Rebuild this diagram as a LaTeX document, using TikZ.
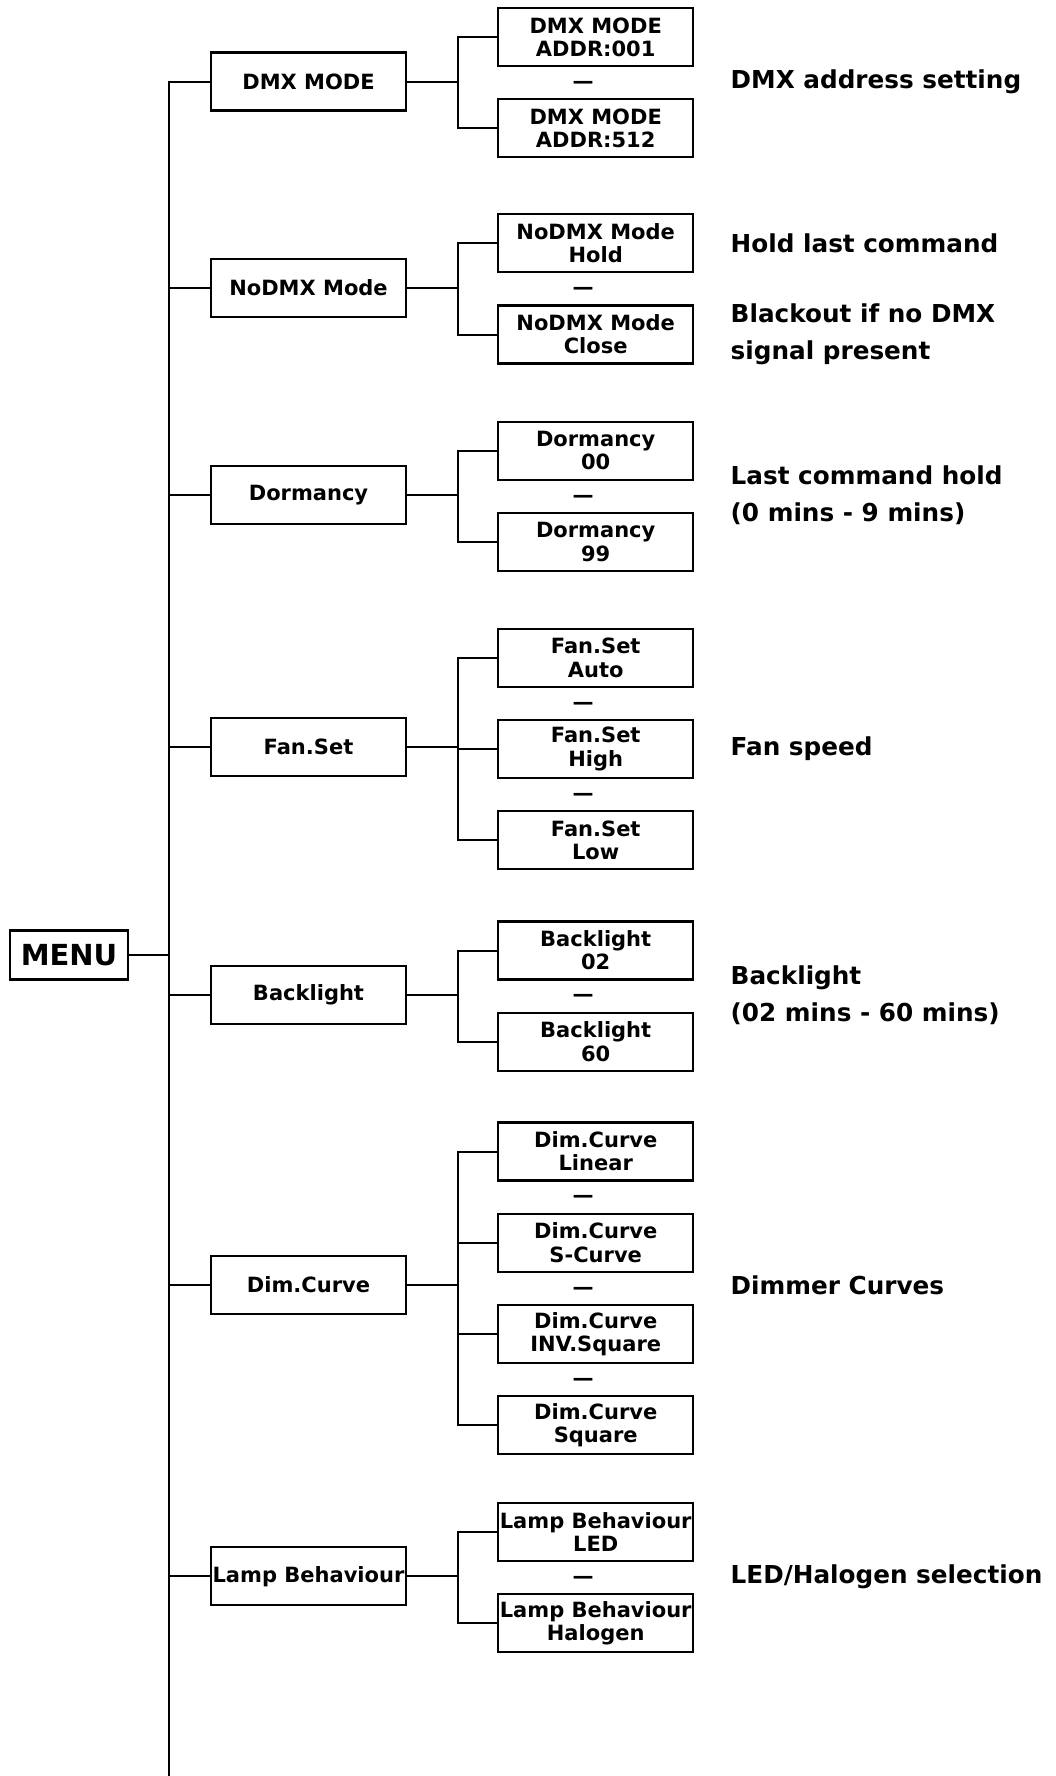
\documentclass[tikz,border=0pt]{standalone}
\usepackage{fontspec}
\setmainfont{DejaVu Sans}
\usetikzlibrary{positioning}
\tikzset{
    menuroot/.style={draw, line width=1.2pt, font=\bfseries\fontsize{14.5}{17}\selectfont, minimum width=59pt, minimum height=24.5pt, inner sep=1pt},
    menuitem/.style={draw, line width=1.1pt, align=center, font=\bfseries\fontsize{10.5}{11.6}\selectfont, minimum width=97.5pt, minimum height=29pt, inner sep=0.5pt},
    menuline/.style={draw, line width=1pt},
    menudash/.style={font=\bfseries\fontsize{10.5}{11.5}\selectfont, inner sep=0pt, xshift=-6.25pt, yshift=-8.9pt},
    menunote/.style={anchor=west, align=left, font=\bfseries\fontsize{12.35}{18.5}\selectfont, inner sep=0pt, xshift=18pt}
}

\begin{document}
\begin{tikzpicture}[x=0.5pt, y=-0.5pt]
    \useasboundingbox (0,0) rectangle (1055,1776);

    % root and spine
    \node[menuroot] (menu) at (69,955) {MENU};
    \coordinate (spinebot) at (169,1776);

    % first level
    \node[menuitem] (dmx) at (308.5,81.6) {DMX MODE};
    \node[menuitem] (nodmx) at (308.5,287.8) {NoDMX Mode};
    \node[menuitem] (dorm) at (308.5,495.2) {Dormancy};
    \node[menuitem] (fan) at (308.5,746.8) {Fan.Set};
    \node[menuitem] (back) at (308.5,995) {Backlight};
    \node[menuitem] (dim) at (308.5,1285) {Dim.Curve};
    \node[menuitem] (lamp) at (308.5,1576.3) {Lamp Behaviour};

    % second level
    \node[menuitem, right=45pt of dmx, yshift=22.25pt] (dmxA) {DMX MODE\\ADDR:001};
    \node[menuitem, below=15.5pt of dmxA] (dmxB) {DMX MODE\\ADDR:512};

    \node[menuitem, right=45pt of nodmx, yshift=22.25pt] (nodmxA) {NoDMX Mode\\Hold};
    \node[menuitem, below=15.5pt of nodmxA] (nodmxB) {NoDMX Mode\\Close};

    \node[menuitem, right=45pt of dorm, yshift=22.25pt] (dormA) {Dormancy\\00};
    \node[menuitem, below=15.5pt of dormA] (dormB) {Dormancy\\99};

    \node[menuitem, right=45pt of fan, yshift=44.5pt] (fanA) {Fan.Set\\Auto};
    \node[menuitem, below=15.5pt of fanA] (fanB) {Fan.Set\\High};
    \node[menuitem, below=15.5pt of fanB] (fanC) {Fan.Set\\Low};

    \node[menuitem, right=45pt of back, yshift=22.25pt] (backA) {Backlight\\02};
    \node[menuitem, below=15.5pt of backA] (backB) {Backlight\\60};

    \node[menuitem, right=45pt of dim, yshift=66.75pt] (dimA) {Dim.Curve\\Linear};
    \node[menuitem, below=15.5pt of dimA] (dimB) {Dim.Curve\\S-Curve};
    \node[menuitem, below=15.5pt of dimB] (dimC) {Dim.Curve\\INV.Square};
    \node[menuitem, below=15.5pt of dimC] (dimD) {Dim.Curve\\Square};

    \node[menuitem, right=45pt of lamp, yshift=22.25pt] (lampA) {Lamp Behaviour\\LED};
    \node[menuitem, below=15.5pt of lampA] (lampB) {Lamp Behaviour\\Halogen};

    % dashes between options
    \node[menudash] (dmxdash) at (dmxA.south) {—};
    \node[menudash] (nodmxdash) at (nodmxA.south) {—};
    \node[menudash] (dormdash) at (dormA.south) {—};
    \node[menudash] (fandashA) at (fanA.south) {—};
    \node[menudash] (fandashB) at (fanB.south) {—};
    \node[menudash] (backdash) at (backA.south) {—};
    \node[menudash] (dimdashA) at (dimA.south) {—};
    \node[menudash] (dimdashB) at (dimB.south) {—};
    \node[menudash] (dimdashC) at (dimC.south) {—};
    \node[menudash] (lampdash) at (lampA.south) {—};

    % notes
    \node[menunote] (dmxnote) at (dmxA.east |- dmx) {DMX address setting};
    \node[menunote] (holdnote) at (nodmxA.east) {Hold last command};
    \node[menunote] (closenote) at (nodmxB.east) {Blackout if no DMX\\signal present};
    \node[menunote] (dormnote) at (dormA.east |- dorm) {Last command hold\\(0 mins - 9 mins)};
    \node[menunote] (fannote) at (fanB.east) {Fan speed};
    \node[menunote] (backnote) at (backA.east |- back) {Backlight\\(02 mins - 60 mins)};
    \node[menunote] (dimnote) at (dimA.east |- dim) {Dimmer Curves};
    \node[menunote] (lampnote) at (lampA.east |- lamp) {LED/Halogen selection};

    % spine
    \draw[menuline] (menu.east) -- (menu.east -| spinebot);
    \draw[menuline] (dmx.west) -| (spinebot);
    \draw[menuline] (nodmx.west) -- (nodmx.west -| spinebot);
    \draw[menuline] (dorm.west) -- (dorm.west -| spinebot);
    \draw[menuline] (fan.west) -- (fan.west -| spinebot);
    \draw[menuline] (back.west) -- (back.west -| spinebot);
    \draw[menuline] (dim.west) -- (dim.west -| spinebot);
    \draw[menuline] (lamp.west) -- (lamp.west -| spinebot);

    % branches
    \draw[menuline] (dmx.east) -- ++(25.5pt,0) coordinate (dmxj);
    \draw[menuline] (dmxj) |- (dmxA.west);
    \draw[menuline] (dmxj) |- (dmxB.west);

    \draw[menuline] (nodmx.east) -- ++(25.5pt,0) coordinate (nodmxj);
    \draw[menuline] (nodmxj) |- (nodmxA.west);
    \draw[menuline] (nodmxj) |- (nodmxB.west);

    \draw[menuline] (dorm.east) -- ++(25.5pt,0) coordinate (dormj);
    \draw[menuline] (dormj) |- (dormA.west);
    \draw[menuline] (dormj) |- (dormB.west);

    \draw[menuline] (fan.east) -- ++(25.5pt,0) coordinate (fanj);
    \draw[menuline] (fanj) |- (fanA.west);
    \draw[menuline] (fanj) |- (fanB.west);
    \draw[menuline] (fanj) |- (fanC.west);

    \draw[menuline] (back.east) -- ++(25.5pt,0) coordinate (backj);
    \draw[menuline] (backj) |- (backA.west);
    \draw[menuline] (backj) |- (backB.west);

    \draw[menuline] (dim.east) -- ++(25.5pt,0) coordinate (dimj);
    \draw[menuline] (dimj) |- (dimA.west);
    \draw[menuline] (dimj) |- (dimB.west);
    \draw[menuline] (dimj) |- (dimC.west);
    \draw[menuline] (dimj) |- (dimD.west);

    \draw[menuline] (lamp.east) -- ++(25.5pt,0) coordinate (lampj);
    \draw[menuline] (lampj) |- (lampA.west);
    \draw[menuline] (lampj) |- (lampB.west);
\end{tikzpicture}
\end{document}
